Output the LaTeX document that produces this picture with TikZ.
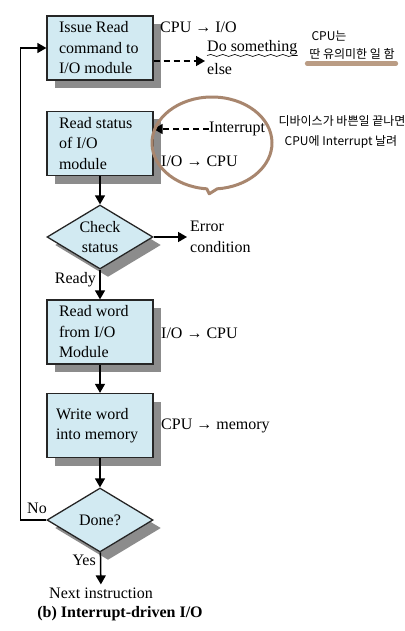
\documentclass[tikz,border=0pt]{standalone}
\usepackage{fontspec}
\setmainfont{Liberation Serif}
\newfontfamily\krfont{Noto Sans CJK KR}
\usepackage{xcolor}
\usetikzlibrary{arrows.meta,positioning,shapes.geometric,calc,shadows,decorations.pathmorphing}
\definecolor{boxblue}{RGB}{210,234,242}
\definecolor{penbrown}{RGB}{168,134,110}
\definecolor{markbrown}{RGB}{186,156,132}

\begin{document}
\begin{tikzpicture}[
  x=1pt, y=-1pt,
  font=\fontsize{16}{20.5}\selectfont,
  boxshadow/.style={drop shadow={shadow xshift=8pt, shadow yshift=-8pt, fill=black!45, opacity=1}},
  box/.style={draw=black!85, line width=1.3pt, fill=boxblue, boxshadow, minimum width=106pt, minimum height=64pt, text width=88pt, inner xsep=9pt, align=flush left},
  decide/.style={diamond, draw=black!85, line width=1.3pt, fill=boxblue, boxshadow, aspect=1.66, inner sep=0pt, minimum width=106pt, minimum height=64pt, align=center},
  lab/.style={inner sep=0pt, align=left},
  arr/.style={-{Triangle[length=9pt,width=10pt]}, line width=1.5pt},
  darr/.style={arr, dash pattern=on 6pt off 4pt},
  kr/.style={inner sep=0pt, font=\krfont\fontsize{12}{14}\selectfont},
  bubble/.style={draw=penbrown, line width=3pt, line join=round}
]
\useasboundingbox (0,0) rectangle (404,631);
% Flow steps
\node[box] (issue) at (100,48) {\hspace*{3pt}Issue Read\\\hspace*{3pt}command to\\\hspace*{3pt}I/O module};
\node[box] (status) at (100,143.5) {\hspace*{3pt}Read status\\\hspace*{3pt}of I/O\\\hspace*{3pt}module};
\node[decide] (check) at (100,237) {Check\\status};
\node[box] (readw) at (100,332) {\hspace*{3pt}Read word\\\hspace*{3pt}from I/O\\\hspace*{3pt}Module};
\node[box] (writew) at (100,425.5) {Write word\\into memory};
\node[decide] (done) at (100,520) {Done?};
\node[inner sep=0pt] (next) at (101,593) {Next instruction};
\node[inner sep=0pt, font=\bfseries\fontsize{16}{20}\selectfont] (cap) at (120,614) {(b) Interrupt-driven I/O};
% Side labels
\node[lab, anchor=west] (cpuio) at (160,27) {CPU → I/O};
\coordinate (dsend) at (205,61);
\node[lab, anchor=west] (dosome) at (207,48) {Do something};
\node[lab, anchor=west] (elsetxt) at (207,69) {else};
\node[lab, anchor=west] (intr) at (209,129) {Interrupt};
\node[lab, anchor=west] (iocpuA) at (161,161) {I/O → CPU};
\node[lab, anchor=west] (err) at (190,237) {Error\\condition};
\node[lab, anchor=west] (iocpuB) at (161,333) {I/O → CPU};
\node[lab, anchor=west] (cpumem) at (161,426) {CPU → memory};
\node[lab, anchor=east] (ready) at (96,280) {Ready};
\node[lab] (no) at (37,508) {No};
\node[lab, anchor=east] (yes) at (96,560) {Yes};
% Connectors
\draw[arr] (status) -- (check);
\draw[arr, shorten >=3pt] (check.east) -- (err.west);
\draw[arr] (check) -- (readw);
\draw[arr] (readw) -- (writew);
\draw[arr] (writew) -- (done);
\draw[arr, shorten >=3pt] (done) -- (next);
\draw[arr] (done.west) -- ++(-26,0) |- (issue.west);
\draw[darr] (issue.east |- dsend) -- (dsend);
\draw[darr] (intr.west) -- (intr.west -| status.east);
% Handwritten notes
\draw[decorate, decoration={snake, amplitude=1pt, segment length=12pt}, line width=0.6pt] (dosome.south west) -- (dosome.south east);
\coordinate (bub) at (212,143);
\draw[bubble] (bub) ++(95:60 and 46) arc[start angle=95, end angle=445, x radius=60, y radius=46] -- ++(-8,5) -- cycle;
\node[kr] (hcpu) at (329,36) {CPU는};
\node[kr] (hwork) at (352,54) {딴 유의미한 일 함};
\draw[line width=4.5pt, markbrown, line cap=round] ($(hwork.south west)+(-2,4)$) -- ($(hwork.south east)+(1,4)$);
\node[kr] (hdev) at (342,121) {디바이스가 바쁜일 끝나면};
\node[kr] (hint) at (341,142) {CPU에 Interrupt 날려};
\end{tikzpicture}
\end{document}
